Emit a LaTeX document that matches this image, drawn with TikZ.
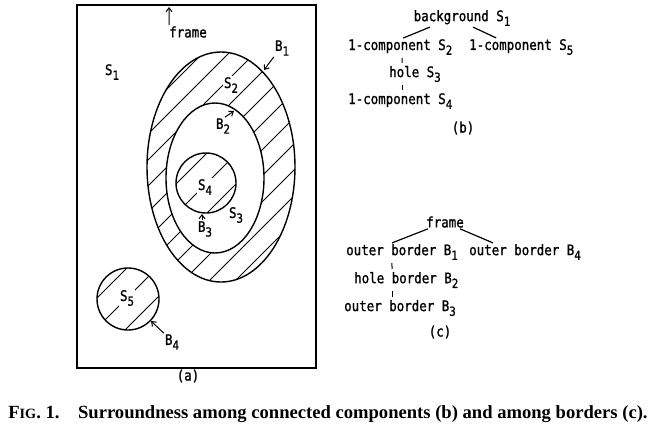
\documentclass[tikz,border=0pt]{standalone}
\usepackage{fontspec}
\setmainfont{Liberation Serif}
\newfontfamily\monolbl[FakeStretch=0.86, FakeBold=1.2]{DejaVu Sans Mono}
\usetikzlibrary{arrows.meta}
\newcommand{\lowidx}[1]{\raisebox{-0.6ex}{\fontsize{12.5}{13}\selectfont #1}}

\begin{document}
\begin{tikzpicture}[
      x=1pt, y=-1pt,                      % pixel grid of the scan, y down
      lbl/.style={font=\monolbl\fontsize{14.5}{16}\selectfont, inner sep=1pt},
      cutlbl/.style={lbl, fill=white},    % label that breaks the hatching
      rim/.style={draw=black, line width=1.4pt},
      hatch/.style={line width=1pt},
      pointer/.style={-{Straight Barb[length=4pt, width=6pt]}, line width=1pt},
      branch/.style={line width=1.2pt},
      tick/.style={line width=1pt, shorten <=2pt, shorten >=2pt}
  ]
  \useasboundingbox (0,0) rectangle (653,437);

  % Hatching: ring S2, discs S4 and S5
  \begin{scope}[even odd rule]
    \clip (221,167) ellipse [x radius=74, y radius=115]
          (215,178) ellipse [x radius=49, y radius=75];
    \foreach \hc in {204,230,...,568}
      \draw[hatch] (\hc,0) -- (\hc-420,420);
  \end{scope}
  \begin{scope}
    \clip (206,183) circle [radius=30];
    \foreach \hc in {360,390,420}
      \draw[hatch] (\hc,0) -- (\hc-420,420);
  \end{scope}
  \begin{scope}
    \clip (128,299) circle [radius=31];
    \foreach \hc in {395,425,455}
      \draw[hatch] (\hc,0) -- (\hc-460,460);
  \end{scope}

  % Frame and regions
  \draw[rim] (77,5) rectangle (316,368);
  \draw[rim] (221,167) ellipse [x radius=74, y radius=115];
  \draw[rim] (215,178) ellipse [x radius=49, y radius=75];
  \draw[rim] (206,183) circle [radius=30];
  \draw[rim] (128,299) circle [radius=31];

  % Points on the borders
  \coordinate (frametop) at (169,7);
  \coordinate (onB1) at (264,70);
  \coordinate (onB2) at (234,111);
  \coordinate (onB3) at (202,214);
  \coordinate (onB4) at (151,321);

  % Labels of (a)
  \node[lbl] (frameA) at (188,32) {frame};
  \node[lbl] (s1) at (112,72) {S\lowidx{1}};
  \node[lbl] (b1) at (282,48) {B\lowidx{1}};
  \node[cutlbl] (s2) at (231,85) {S\lowidx{2}};
  \node[cutlbl] (b2) at (223,126) {B\lowidx{2}};
  \node[cutlbl] (s4) at (205,187) {S\lowidx{4}};
  \node[lbl] (s3) at (236,215) {S\lowidx{3}};
  \node[lbl] (b3) at (205,229) {B\lowidx{3}};
  \node[cutlbl] (s5) at (127,298) {S\lowidx{5}};
  \node[lbl] (b4) at (172,342) {B\lowidx{4}};
  \node[lbl] (capA) at (188,376) {(a)};

  % Arrows of (a)
  \draw[pointer] ([xshift=1pt]frameA.north west) -- (frametop);
  \draw[pointer] (b1.south west) -- (onB1);
  \draw[pointer] ([xshift=2pt]b2.north) -- (onB2);
  \draw[pointer] ([xshift=-3pt]b3.north) -- (onB3);
  \draw[pointer] (b4.north west) -- (onB4);

  % Tree (b)
  \node[lbl] (bgS1) at (462,18) {background S\lowidx{1}};
  \node[lbl, anchor=west] (c2) at (347,47) {1-component S\lowidx{2}};
  \node[lbl, anchor=west] (c5) at (468,47) {1-component S\lowidx{5}};
  \node[lbl, anchor=west] (h3) at (388,74) {hole S\lowidx{3}};
  \node[lbl, anchor=west] (c4) at (347,101) {1-component S\lowidx{4}};
  \node[lbl] (capB) at (463,128) {(b)};

  \draw[branch] ([xshift=-32pt]bgS1.south) -- ([xshift=3pt]c2.north);
  \draw[branch] ([xshift=11pt]bgS1.south) -- ([xshift=-25pt]c5.north);
  \draw[tick] ([xshift=2pt]c2.south) -- ([xshift=14pt]h3.north west);
  \draw[tick] ([xshift=14pt]h3.south west) -- ([xshift=55pt]c4.north west);

  % Tree (c)
  \node[lbl] (frameC) at (445,222) {frame};
  \node[lbl, anchor=west] (ob1) at (345,252) {outer border B\lowidx{1}};
  \node[lbl, anchor=west] (ob4) at (468,252) {outer border B\lowidx{4}};
  \node[lbl, anchor=west] (hb2) at (353,280) {hole border B\lowidx{2}};
  \node[lbl, anchor=west] (ob3) at (343,308) {outer border B\lowidx{3}};
  \node[lbl] (capC) at (440,332) {(c)};

  \draw[branch] ([xshift=-17pt]frameC.south) -- ([xshift=-10pt]ob1.north);
  \draw[branch] ([xshift=15pt]frameC.south) -- ([xshift=-32pt]ob4.north);
  \draw[tick] ([xshift=-10pt]ob1.south) -- ([xshift=39pt]hb2.north west);
  \draw[tick] ([xshift=39pt]hb2.south west) -- ([xshift=49pt]ob3.north west);

  % Caption
  \node[font=\bfseries\fontsize{18.6}{21}\selectfont, anchor=base] (caption) at (328,418)
    {F{\fontsize{14.2}{16}\selectfont IG}. 1.\quad Surroundness among connected components (b) and among borders (c).};
\end{tikzpicture}
\end{document}
